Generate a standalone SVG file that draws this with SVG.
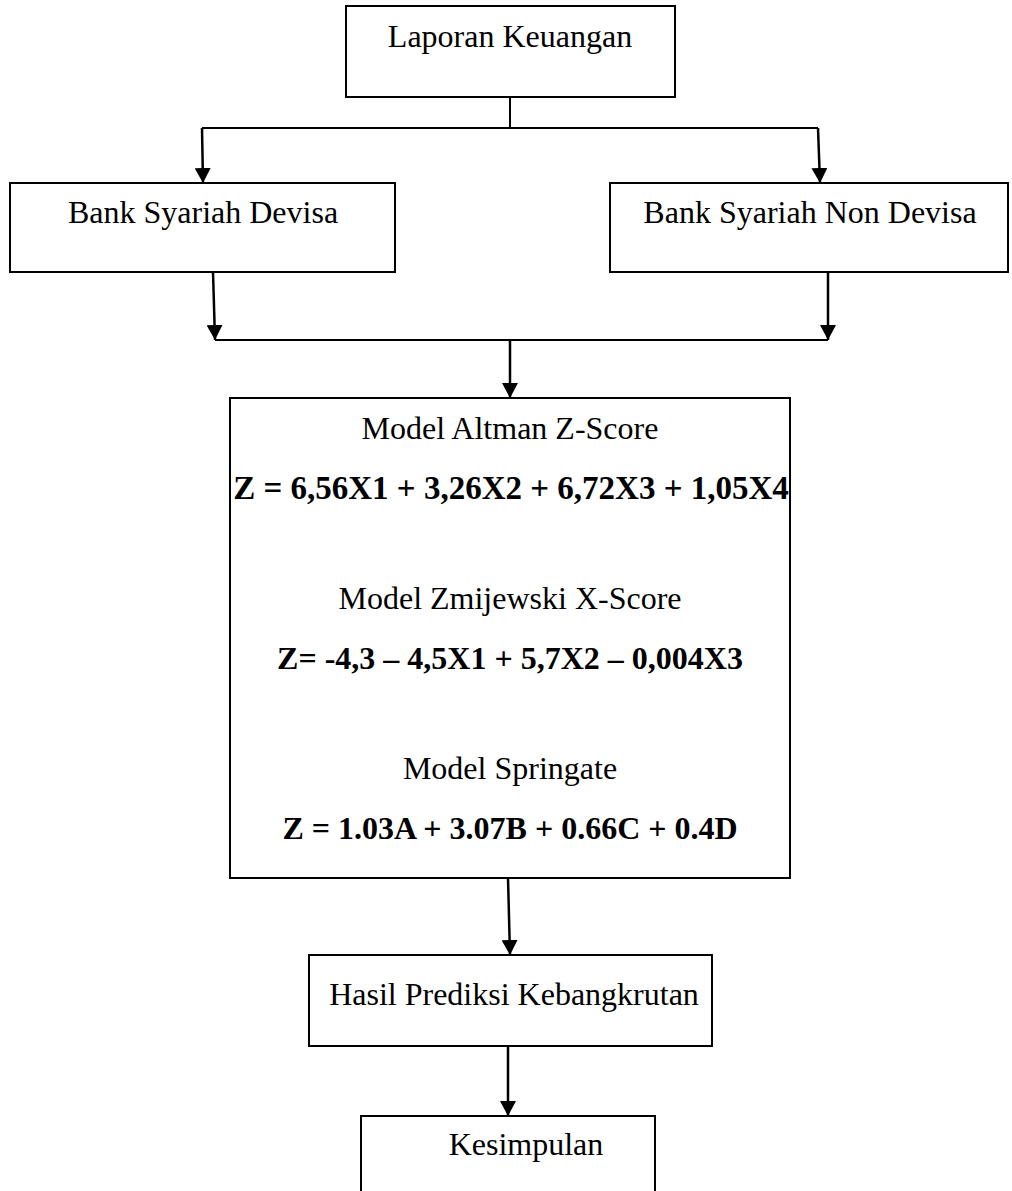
<svg xmlns="http://www.w3.org/2000/svg" width="1012" height="1191" viewBox="0 0 1012 1191">
  <style>
    .box { fill: #fff; stroke: #000; stroke-width: 2; }
    .lbl { font-family: "Liberation Serif", "Times New Roman", serif; font-size: 32px; fill: #000; text-anchor: middle; }
    .eq { font-weight: bold; }
    .wire { fill: none; stroke: #000; stroke-width: 2; }
    .arrow { fill: none; stroke: #000; stroke-width: 2.5; marker-end: url(#head); }
  </style>
  <defs>
    <marker id="head" markerUnits="userSpaceOnUse" markerWidth="16" markerHeight="16" refX="15" refY="8" orient="auto">
      <path d="M0,0 L15,8 L0,16 z" fill="#000"/>
    </marker>
  </defs>
  <rect width="1012" height="1191" fill="#fff"/>

  <g id="connectors">
    <line class="wire" x1="510" y1="97" x2="510" y2="128"/>
    <line class="wire" x1="202" y1="128" x2="818" y2="128"/>
    <line class="arrow" x1="202" y1="128" x2="203" y2="183"/>
    <line class="arrow" x1="818" y1="128" x2="820" y2="183"/>
    <line class="arrow" x1="213" y1="272" x2="215" y2="340"/>
    <line class="arrow" x1="828" y1="272" x2="828" y2="340"/>
    <line class="wire" x1="215" y1="340" x2="828" y2="340"/>
    <line class="arrow" x1="510" y1="340" x2="510" y2="398"/>
    <line class="arrow" x1="508" y1="878" x2="510" y2="955"/>
    <line class="arrow" x1="508" y1="1046" x2="508" y2="1116"/>
  </g>

  <g id="laporan">
    <rect class="box" x="346" y="6" width="329" height="91"/>
    <text class="lbl" x="510" y="47">Laporan Keuangan</text>
  </g>

  <g id="devisa">
    <rect class="box" x="10" y="183" width="385" height="89"/>
    <text class="lbl" x="203" y="223">Bank Syariah Devisa</text>
  </g>

  <g id="non-devisa">
    <rect class="box" x="610" y="183" width="398" height="89"/>
    <text class="lbl" x="810" y="223">Bank Syariah Non Devisa</text>
  </g>

  <g id="models">
    <rect class="box" x="230" y="398" width="560" height="480"/>
    <text class="lbl" x="510" y="439">Model Altman Z-Score</text>
    <text class="lbl eq" x="511" y="499" style="font-size:33px">Z = 6,56X1 + 3,26X2 + 6,72X3 + 1,05X4</text>
    <text class="lbl" x="510" y="609">Model Zmijewski X-Score</text>
    <text class="lbl eq" x="510" y="669">Z= -4,3 – 4,5X1 + 5,7X2 – 0,004X3</text>
    <text class="lbl" x="510" y="779">Model Springate</text>
    <text class="lbl eq" x="510" y="839">Z = 1.03A + 3.07B + 0.66C + 0.4D</text>
  </g>

  <g id="hasil">
    <rect class="box" x="309" y="955" width="403" height="91"/>
    <text class="lbl" x="514" y="1005">Hasil Prediksi Kebangkrutan</text>
  </g>

  <g id="kesimpulan">
    <rect class="box" x="361" y="1116" width="294" height="90"/>
    <text class="lbl" x="526" y="1155">Kesimpulan</text>
  </g>
</svg>
